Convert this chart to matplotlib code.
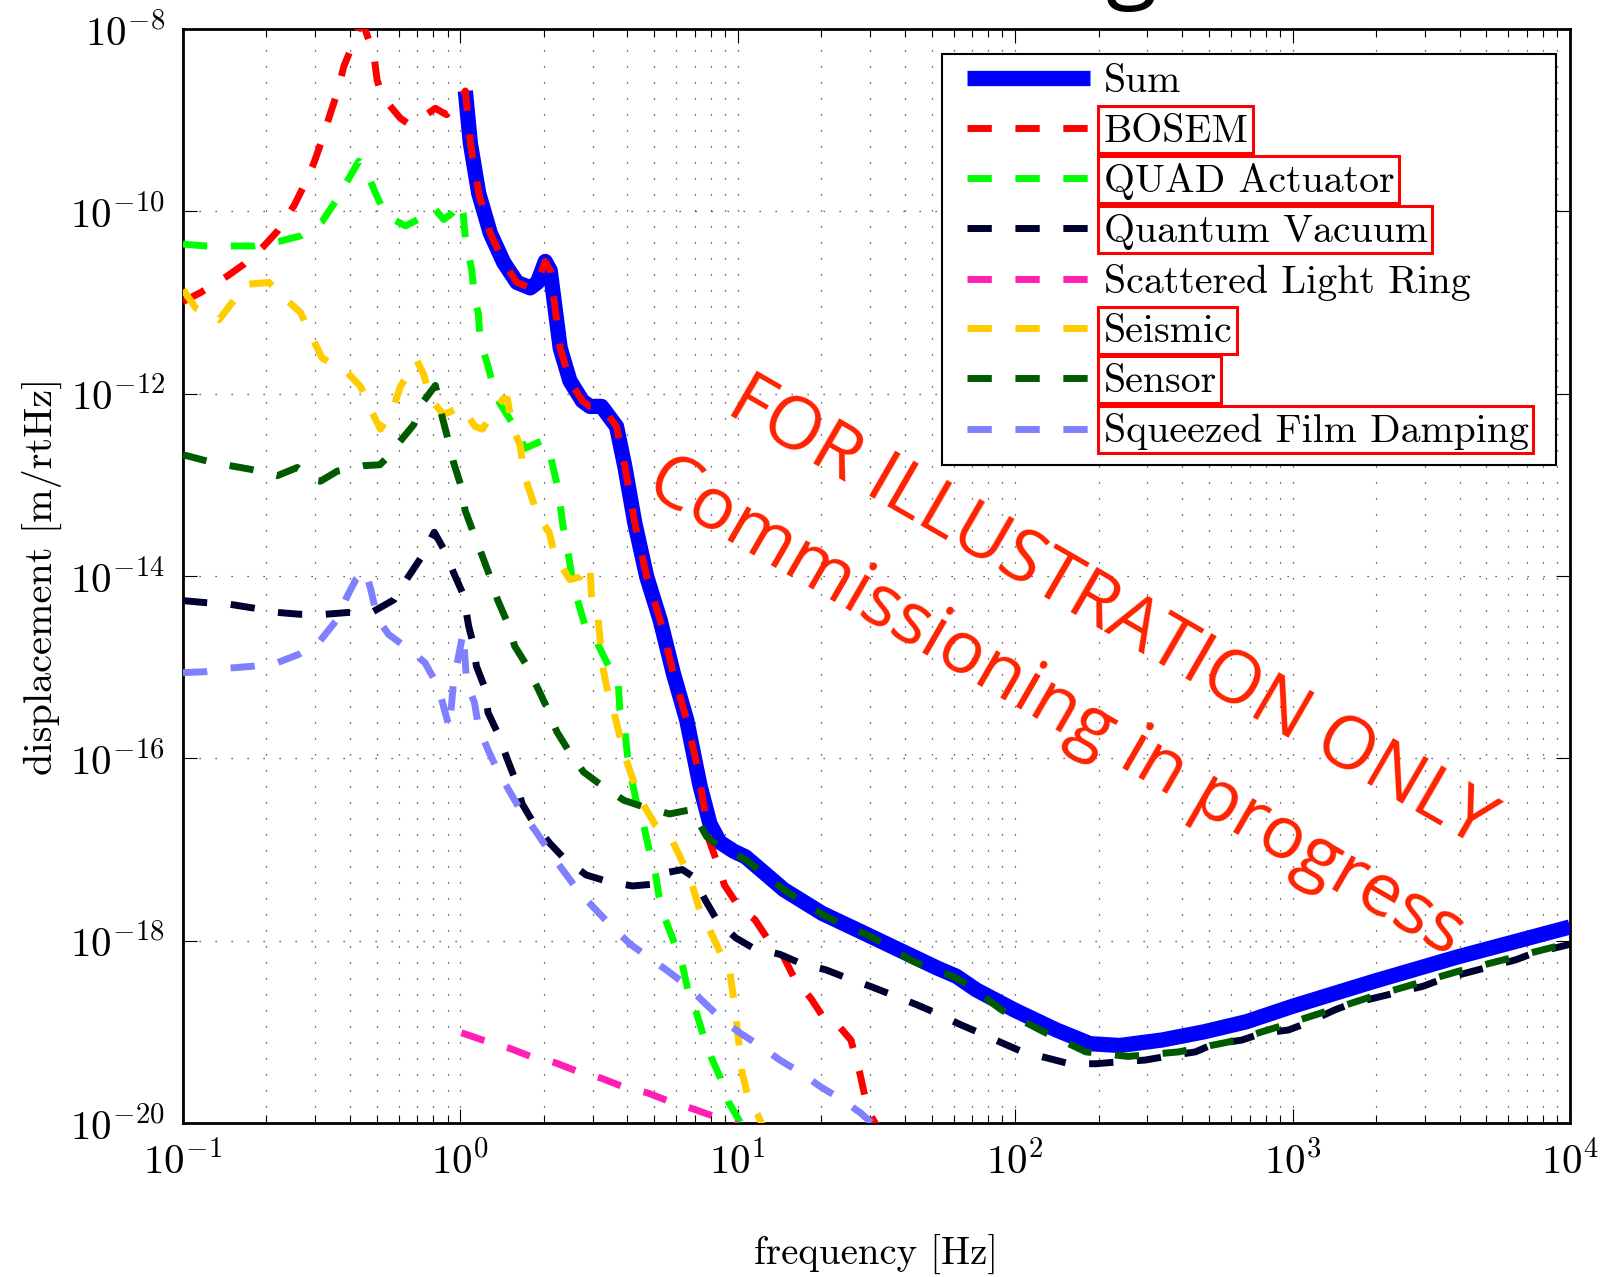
import numpy as np
import matplotlib
matplotlib.use('Agg')
import matplotlib.pyplot as plt
from matplotlib.patches import Rectangle
from matplotlib.ticker import LogLocator, NullLocator, NullFormatter

plt.rcParams['mathtext.fontset'] = 'cm'
plt.rcParams['font.family'] = 'cmr10'
plt.rcParams['axes.formatter.use_mathtext'] = True

# values, both axes as log10 (frequency in Hz, displacement in m/rtHz)
sum_f = [0.018, 0.036, 0.066, 0.108, 0.156, 0.204, 0.252, 0.278, 0.306, 0.324,
         0.360, 0.395, 0.440, 0.467, 0.509, 0.563, 0.593, 0.629, 0.672, 0.720,
         0.768, 0.816, 0.864, 0.900, 0.935, 0.986, 1.028, 1.166, 1.304, 1.443,
         1.581, 1.719, 1.788, 1.860, 1.997, 2.149, 2.270, 2.377, 2.529, 2.681,
         2.833, 3.000, 3.289, 3.593, 4.000]
sum_x = [-8.68, -9.25, -9.80, -10.24, -10.56, -10.78, -10.84, -10.78, -10.55, -10.65,
         -11.50, -11.86, -12.08, -12.14, -12.14, -12.36, -12.80, -13.42, -14.01, -14.48,
         -15.07, -15.58, -16.30, -16.72, -16.92, -17.02, -17.08, -17.44, -17.70, -17.90,
         -18.10, -18.30, -18.39, -18.54, -18.76, -18.98, -19.13, -19.15, -19.09, -19.00,
         -18.89, -18.72, -18.45, -18.18, -17.85]

bosem_f = [-1.000, -0.936, -0.840, -0.780, -0.708, -0.660, -0.600, -0.564, -0.528, -0.498,
           -0.468, -0.444, -0.420, -0.396, -0.366, -0.350, -0.330, -0.312, -0.300, -0.282,
           -0.216, -0.192, -0.156, -0.090, -0.050, -0.020, 0.018, 0.036, 0.066, 0.108,
           0.156, 0.204, 0.252, 0.278, 0.306, 0.324, 0.360, 0.395, 0.440, 0.467,
           0.509, 0.563, 0.593, 0.629, 0.672, 0.720, 0.768, 0.816, 0.855, 0.882,
           0.896, 0.924, 0.952, 1.000, 1.062, 1.110, 1.159, 1.207, 1.263, 1.304,
           1.360, 1.408, 1.440, 1.470, 1.505]
bosem_x = [-10.99, -10.89, -10.71, -10.58, -10.38, -10.22, -9.94, -9.72, -9.47, -9.21,
           -8.92, -8.70, -8.41, -8.23, -7.99, -7.95, -8.12, -8.28, -8.56, -8.74,
           -8.98, -9.03, -9.01, -8.87, -8.94, -8.86, -8.68, -9.25, -9.80, -10.24,
           -10.56, -10.78, -10.84, -10.78, -10.55, -10.65, -11.50, -11.86, -12.08, -12.14,
           -12.14, -12.36, -12.80, -13.42, -14.01, -14.48, -15.07, -15.58, -16.10, -16.60,
           -16.89, -17.13, -17.39, -17.61, -17.77, -17.99, -18.14, -18.43, -18.63, -18.82,
           -18.92, -19.09, -19.45, -19.87, -20.05]

quad_f = [-1.000, -0.918, -0.822, -0.744, -0.654, -0.576, -0.498, -0.450, -0.408, -0.366,
          -0.336, -0.306, -0.270, -0.198, -0.120, -0.096, -0.060, -0.030, 0.000, 0.010,
          0.020, 0.040, 0.052, 0.065, 0.071, 0.095, 0.119, 0.143, 0.203, 0.233,
          0.299, 0.323, 0.352, 0.370, 0.382, 0.407, 0.419, 0.449, 0.491, 0.533,
          0.569, 0.575, 0.593, 0.605, 0.617, 0.641, 0.659, 0.682, 0.703, 0.716,
          0.737, 0.772, 0.800, 0.820, 0.848, 0.875, 0.903, 0.938, 0.965, 1.014]
quad_x = [-10.36, -10.38, -10.38, -10.38, -10.33, -10.27, -10.11, -9.89, -9.67, -9.45,
          -9.58, -9.80, -10.04, -10.16, -10.04, -9.96, -10.09, -10.02, -9.90, -10.02,
          -10.36, -10.62, -10.97, -11.12, -11.41, -11.65, -11.92, -12.11, -12.40, -12.60,
          -12.51, -12.66, -13.04, -13.45, -13.62, -14.10, -14.23, -14.54, -14.72, -14.98,
          -15.16, -15.47, -15.69, -16.05, -16.22, -16.57, -16.71, -17.02, -17.26, -17.51,
          -17.75, -18.03, -18.26, -18.54, -18.76, -19.03, -19.27, -19.51, -19.76, -20.02]

qv_f = [-1.000, -0.928, -0.832, -0.749, -0.659, -0.577, -0.487, -0.404, -0.314, -0.239,
        -0.190, -0.142, -0.094, -0.059, -0.025, 0.010, 0.030, 0.044, 0.058, 0.086,
        0.100, 0.134, 0.168, 0.196, 0.223, 0.258, 0.322, 0.378, 0.454, 0.530,
        0.620, 0.696, 0.750, 0.800, 0.840, 0.882, 0.924, 0.993, 1.055, 1.152,
        1.228, 1.318, 1.394, 1.477, 1.553, 1.643, 1.712, 1.802, 1.871, 1.959,
        2.027, 2.119, 2.195, 2.293, 2.369, 2.468, 2.544, 2.650, 2.711, 2.818,
        2.886, 2.985, 3.046, 3.152, 3.213, 3.471, 3.532, 3.805, 3.866, 4.000]
qv_x = [-14.27, -14.29, -14.31, -14.35, -14.40, -14.42, -14.42, -14.40, -14.39, -14.26,
        -14.02, -13.80, -13.52, -13.71, -13.96, -14.20, -14.55, -14.72, -14.99, -15.21,
        -15.50, -15.72, -16.00, -16.22, -16.50, -16.68, -16.93, -17.11, -17.28, -17.35,
        -17.40, -17.38, -17.25, -17.22, -17.30, -17.55, -17.77, -17.97, -18.08, -18.15,
        -18.25, -18.32, -18.41, -18.50, -18.59, -18.70, -18.79, -18.92, -19.01, -19.13,
        -19.22, -19.29, -19.35, -19.35, -19.33, -19.31, -19.27, -19.22, -19.14, -19.09,
        -19.02, -18.98, -18.91, -18.76, -18.69, -18.50, -18.43, -18.21, -18.14, -18.04]

ring_f = [0.004, 0.080, 0.177, 0.253, 0.343, 0.419, 0.509, 0.585, 0.675, 0.751,
          0.834, 0.917, 1.000]
ring_x = [-19.01, -19.09, -19.18, -19.27, -19.34, -19.43, -19.51, -19.60, -19.67, -19.76,
          -19.84, -19.93, -20.02]

seis_f = [-1.000, -0.954, -0.870, -0.828, -0.768, -0.690, -0.624, -0.576, -0.534, -0.498,
          -0.414, -0.360, -0.324, -0.288, -0.240, -0.216, -0.156, -0.132, -0.108, -0.060,
          0.005, 0.053, 0.080, 0.107, 0.156, 0.170, 0.186, 0.216, 0.228, 0.252,
          0.279, 0.320, 0.341, 0.395, 0.431, 0.467, 0.473, 0.497, 0.513, 0.527,
          0.554, 0.575, 0.596, 0.623, 0.658, 0.703, 0.765, 0.806, 0.834, 0.862,
          0.896, 0.938, 0.972, 0.990, 1.005, 1.016, 1.040, 1.070, 1.090]
seis_x = [-10.86, -11.06, -11.19, -11.02, -10.80, -10.78, -10.98, -11.11, -11.39, -11.61,
          -11.75, -11.92, -12.17, -12.39, -12.14, -11.92, -11.64, -11.79, -12.06, -12.23,
          -12.14, -12.36, -12.39, -12.25, -12.05, -12.06, -12.36, -12.57, -12.87, -13.09,
          -13.34, -13.52, -13.78, -14.04, -14.01, -13.87, -14.24, -14.48, -14.99, -15.21,
          -15.50, -15.76, -16.00, -16.24, -16.50, -16.73, -16.91, -17.17, -17.37, -17.66,
          -17.86, -18.14, -18.35, -18.75, -19.15, -19.45, -19.75, -19.90, -20.03]

sensor_f = [-1.000, -0.900, -0.830, -0.756, -0.660, -0.588, -0.530, -0.504, -0.444, -0.348,
            -0.290, -0.270, -0.222, -0.168, -0.132, -0.090, -0.066, -0.048, -0.024, 0.000,
            0.017, 0.044, 0.079, 0.106, 0.134, 0.168, 0.196, 0.237, 0.279, 0.313,
            0.348, 0.389, 0.444, 0.506, 0.589, 0.658, 0.754, 0.820, 0.834, 0.888,
            0.934, 1.028, 1.083, 1.166, 1.221, 1.304, 1.373, 1.463, 1.532, 1.622,
            1.685, 1.775, 1.837, 1.951, 2.103, 2.255, 2.407, 2.590, 2.772, 2.954,
            3.137, 3.289, 3.593, 3.942, 4.000]
sensor_x = [-12.67, -12.75, -12.79, -12.83, -12.90, -12.81, -12.95, -12.96, -12.85, -12.79,
            -12.78, -12.72, -12.54, -12.34, -12.08, -11.91, -12.25, -12.46, -12.76, -12.99,
            -13.28, -13.50, -13.78, -14.00, -14.26, -14.50, -14.77, -14.97, -15.23, -15.45,
            -15.71, -15.91, -16.15, -16.29, -16.46, -16.53, -16.61, -16.57, -16.56, -16.86,
            -16.97, -17.11, -17.24, -17.44, -17.55, -17.71, -17.82, -17.93, -18.04, -18.21,
            -18.30, -18.39, -18.50, -18.76, -19.00, -19.22, -19.27, -19.22, -19.11, -18.94,
            -18.76, -18.61, -18.34, -18.07, -18.03]

sfd_f = [-1.000, -0.921, -0.832, -0.749, -0.659, -0.583, -0.508, -0.445, -0.411, -0.377,
         -0.342, -0.321, -0.300, -0.259, -0.183, -0.128, -0.080, -0.059, -0.039, -0.025,
         0.010, 0.023, 0.051, 0.065, 0.100, 0.134, 0.175, 0.223, 0.272, 0.329,
         0.378, 0.426, 0.488, 0.544, 0.613, 0.682, 0.751, 0.820, 0.876, 0.945,
         1.007, 1.083, 1.152, 1.228, 1.297, 1.373, 1.443, 1.490]
sfd_x = [-15.06, -15.05, -15.01, -14.99, -14.95, -14.86, -14.72, -14.48, -14.24, -14.04,
         -13.94, -14.17, -14.46, -14.64, -14.81, -14.95, -15.21, -15.45, -15.67, -15.17,
         -14.62, -15.17, -15.39, -15.65, -15.91, -16.13, -16.35, -16.60, -16.80, -17.06,
         -17.26, -17.46, -17.66, -17.84, -18.04, -18.19, -18.34, -18.50, -18.67, -18.87,
         -19.01, -19.16, -19.31, -19.45, -19.60, -19.74, -19.89, -20.02]

dashed = [
    ('BOSEM', bosem_f, bosem_x, '#ff0000'),
    ('QUAD Actuator', quad_f, quad_x, '#00ff00'),
    ('Quantum Vacuum', qv_f, qv_x, '#000030'),
    ('Scattered Light Ring', ring_f, ring_x, '#ff1fb4'),
    ('Seismic', seis_f, seis_x, '#ffcc00'),
    ('Sensor', sensor_f, sensor_x, '#005a00'),
    ('Squeezed Film Damping', sfd_f, sfd_x, '#8080ff'),
]
boxed = ['BOSEM', 'QUAD Actuator', 'Quantum Vacuum', 'Seismic', 'Sensor',
         'Squeezed Film Damping']

W, H = 1612, 1277
fig = plt.figure(figsize=(W / 100, H / 100), dpi=100)
ax = fig.add_axes([0.1135, 0.1206, 0.8604, 0.8567])

ax.plot(10 ** np.array(sum_f), 10 ** np.array(sum_x), color='#0000ff', lw=11,
        solid_joinstyle='round', solid_capstyle='butt', label='Sum', zorder=3)
for name, f, x, col in dashed:
    ax.plot(10 ** np.array(f), 10 ** np.array(x), color=col, lw=5,
            dashes=(3.5, 3.4), label=name, zorder=4)

ax.set_xscale('log')
ax.set_yscale('log')
ax.set_xlim(0.1, 1e4)
ax.set_ylim(1e-20, 1e-8)
ax.set_yticks([10.0 ** k for k in range(-20, -7, 2)])
ax.yaxis.set_minor_locator(NullLocator())
ax.xaxis.set_minor_locator(LogLocator(base=10, subs=np.arange(2, 10)))
ax.xaxis.set_minor_formatter(NullFormatter())

ax.tick_params(which='major', direction='in', length=10, width=0.8, top=True, right=True,
               labelsize=29.5, pad=13)
ax.tick_params(which='minor', direction='in', length=6, width=0.8, top=True, right=True)
for s in ax.spines.values():
    s.set_linewidth(2)

grid_kw = dict(color='0.2', linestyle=(0, (1, 11.8)), linewidth=0.9)
ax.grid(True, which='major', **grid_kw)
ax.grid(True, which='minor', axis='x', **grid_kw)
ax.set_axisbelow(True)

ax.set_xlabel('frequency [Hz]', fontsize=28, labelpad=38)
ax.set_ylabel('displacement [m/rtHz]', fontsize=29, labelpad=6)

# legend: frame drawn by hand so the paddings match the original
def ax_x(px):
    return (px - 183) / 1387


def ax_y(py):
    return 1 - (py - 28.8) / 1094


frame = Rectangle((ax_x(942), ax_y(465)), ax_x(1556) - ax_x(942), ax_y(53.5) - ax_y(465),
                  transform=ax.transAxes, fc='white', ec='black', lw=1.5, zorder=5)
ax.add_patch(frame)
leg = ax.legend(loc='upper left', bbox_to_anchor=(ax_x(967), ax_y(64)), borderaxespad=0,
                borderpad=0, fontsize=28.7, handlelength=3.08, handletextpad=0.36,
                labelspacing=0.343, frameon=False)
leg.set_zorder(6)

# red boxes drawn round some of the legend labels
fig.canvas.draw()
for t in leg.get_texts():
    if t.get_text() in boxed:
        bb = t.get_window_extent()
        cy = (bb.y0 + bb.y1) / 2 + 2
        fig.add_artist(Rectangle(((bb.x0 - 6) / W, (cy - 23.5) / H), (bb.width + 10) / W, 47 / H,
                                 transform=fig.transFigure, fc='none', ec='red', lw=2.2,
                                 zorder=7))

# watermark
fig.text(0.6886, 0.5203, 'FOR ILLUSTRATION ONLY', rotation=-30, rotation_mode='anchor',
         ha='center', va='center', fontsize=53, family='Open Sans', color='#ff2200', zorder=10)
fig.text(0.6545, 0.4463, 'Commissioning in progress', rotation=-30, rotation_mode='anchor',
         ha='center', va='center', fontsize=53, family='Open Sans', color='#ff2200', zorder=10)

# tail of the slide title, cut off at the top edge
fig.text(1131 / W, 1 + 9.7 / H, 'g', ha='center', va='baseline', fontsize=68,
         family='Open Sans', color='black')

fig.savefig('out.png', dpi=100)
